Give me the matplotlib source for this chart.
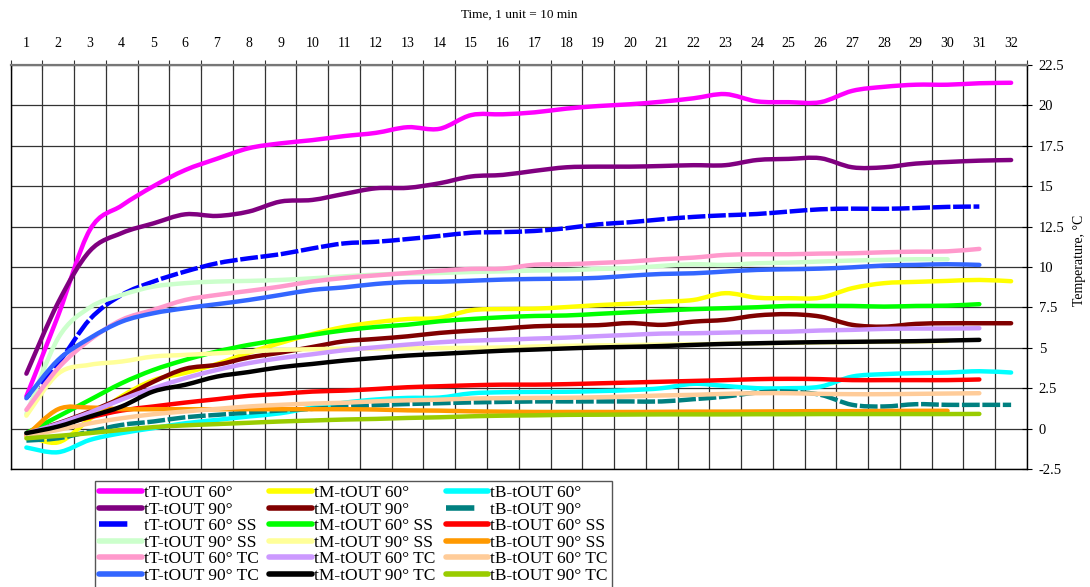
import numpy as np
import matplotlib
matplotlib.use("Agg")
from matplotlib import pyplot as plt
from matplotlib.path import Path
from matplotlib.patches import PathPatch
from matplotlib.lines import Line2D
from matplotlib.ticker import FuncFormatter

plt.rcParams['font.family'] = ['Liberation Serif', 'DejaVu Serif']
plt.rcParams['axes.unicode_minus'] = False

# time steps (1 unit = 10 min)
time_units = list(range(1, 33))

# tT series
tT_60 = [2.0, 7.0, 12.3, 13.8, 15.0, 16.0, 16.7, 17.35, 17.65, 17.85, 18.1, 18.3, 18.65, 18.55, 19.4, 19.45,
         19.57, 19.8, 19.96, 20.07, 20.23, 20.44, 20.7, 20.25, 20.2, 20.2, 20.9, 21.15, 21.28, 21.28, 21.37, 21.4]
tT_90 = [3.4, 7.8, 11.0, 12.1, 12.7, 13.26, 13.16, 13.43, 14.05, 14.15, 14.52, 14.87, 14.9, 15.18, 15.6, 15.7,
         15.95, 16.17, 16.21, 16.21, 16.25, 16.3, 16.3, 16.62, 16.69, 16.73, 16.17, 16.17, 16.4, 16.5, 16.58, 16.62]
tT_60_SS = [1.9, 4.05, 6.77, 8.27, 9.1, 9.72, 10.23, 10.54, 10.79, 11.15, 11.46, 11.56, 11.73, 11.92, 12.12, 12.16,
            12.23, 12.4, 12.64, 12.77, 12.95, 13.1, 13.2, 13.28, 13.43, 13.57, 13.61, 13.6, 13.65, 13.72, 13.74]
tT_90_SS = [0.9, 5.6, 7.5, 8.27, 8.79, 9.0, 9.1, 9.14, 9.2, 9.3, 9.42, 9.53, 9.59, 9.63, 9.69, 9.73,
            9.78, 9.8, 9.88, 9.93, 10.07, 10.17, 10.13, 10.23, 10.27, 10.34, 10.4, 10.44, 10.48, 10.48]
tT_60_TC = [1.16, 3.74, 5.49, 6.73, 7.35, 7.96, 8.27, 8.52, 8.79, 9.1, 9.32, 9.48, 9.63, 9.77, 9.88, 9.9,
            10.14, 10.17, 10.25, 10.34, 10.48, 10.58, 10.75, 10.79, 10.79, 10.83, 10.85, 10.91, 10.95, 10.97, 11.12]
tT_90_TC = [1.88, 4.25, 5.6, 6.62, 7.14, 7.45, 7.7, 7.96, 8.27, 8.58, 8.74, 8.95, 9.07, 9.09, 9.15, 9.22,
            9.26, 9.28, 9.33, 9.46, 9.57, 9.61, 9.72, 9.82, 9.86, 9.9, 9.98, 10.09, 10.13, 10.17, 10.13]

# tM series
tM_60 = [-0.4, -0.85, 0.6, 2.0, 3.0, 3.45, 4.0, 4.7, 5.3, 5.85, 6.29, 6.58, 6.78, 6.85, 7.32, 7.4,
         7.42, 7.52, 7.64, 7.73, 7.85, 7.96, 8.38, 8.1, 8.07, 8.1, 8.69, 9.0, 9.08, 9.14, 9.2, 9.12]
tM_90 = [-0.28, 0.33, 1.06, 1.9, 2.9, 3.7, 3.95, 4.4, 4.7, 5.05, 5.4, 5.55, 5.71, 5.92, 6.06, 6.19,
         6.33, 6.37, 6.4, 6.53, 6.42, 6.62, 6.73, 7.0, 7.08, 6.93, 6.42, 6.31, 6.48, 6.52, 6.52, 6.52]
tM_60_SS = [-0.28, 0.75, 1.78, 2.81, 3.63, 4.25, 4.77, 5.18, 5.49, 5.8, 6.08, 6.29, 6.43, 6.64, 6.78, 6.89,
            6.97, 7.0, 7.1, 7.2, 7.3, 7.39, 7.45, 7.51, 7.59, 7.59, 7.59, 7.55, 7.59, 7.61, 7.7]
tM_90_SS = [0.8, 3.4, 3.95, 4.15, 4.46, 4.56, 4.66, 4.77, 4.87, 4.91, 4.95, 4.95, 4.97, 4.98, 5.0, 5.02,
            5.08, 5.12, 5.15, 5.17, 5.2, 5.22, 5.25, 5.28, 5.3, 5.33, 5.35, 5.37, 5.39, 5.42]
tM_60_TC = [-0.3, 0.3, 1.0, 1.8, 2.5, 3.12, 3.63, 4.05, 4.36, 4.6, 4.85, 5.03, 5.2, 5.34, 5.44, 5.5,
            5.57, 5.63, 5.72, 5.8, 5.88, 5.9, 5.94, 5.98, 6.0, 6.07, 6.11, 6.17, 6.19, 6.19, 6.21]
tM_90_TC = [-0.28, 0.13, 0.75, 1.37, 2.3, 2.71, 3.22, 3.5, 3.8, 4.0, 4.21, 4.37, 4.52, 4.62, 4.72, 4.82,
            4.89, 4.96, 5.02, 5.06, 5.11, 5.18, 5.24, 5.28, 5.32, 5.35, 5.37, 5.39, 5.41, 5.45, 5.49]

# tB series
tB_60 = [-1.17, -1.46, -0.7, -0.28, 0.03, 0.33, 0.54, 0.75, 0.95, 1.3, 1.6, 1.8, 1.9, 1.92, 2.18, 2.25,
         2.27, 2.28, 2.32, 2.38, 2.5, 2.77, 2.64, 2.5, 2.5, 2.6, 3.22, 3.37, 3.43, 3.47, 3.55, 3.47]
tB_90 = [-0.74, -0.6, -0.18, 0.23, 0.44, 0.7, 0.85, 0.99, 1.12, 1.22, 1.35, 1.45, 1.52, 1.57, 1.62, 1.65,
         1.68, 1.68, 1.68, 1.68, 1.68, 1.82, 1.98, 2.23, 2.29, 2.09, 1.47, 1.37, 1.51, 1.47, 1.47, 1.47]
tB_60_SS = [-0.39, 0.23, 0.7, 1.12, 1.37, 1.61, 1.82, 2.03, 2.15, 2.29, 2.35, 2.45, 2.56, 2.62, 2.68, 2.72,
            2.72, 2.75, 2.8, 2.85, 2.9, 2.95, 3.0, 3.06, 3.08, 3.06, 3.0, 3.0, 3.0, 3.0, 3.04]
tB_90_SS = [-0.45, 1.2, 1.3, 1.2, 1.2, 1.2, 1.2, 1.2, 1.2, 1.2, 1.2, 1.18, 1.13, 1.11, 1.07, 1.05,
            1.03, 1.03, 1.03, 1.03, 1.04, 1.05, 1.05, 1.06, 1.07, 1.08, 1.08, 1.09, 1.1, 1.1]
tB_60_TC = [-0.45, -0.08, 0.33, 0.64, 0.89, 1.06, 1.22, 1.37, 1.47, 1.55, 1.6, 1.69, 1.75, 1.79, 1.86, 1.88,
            1.9, 1.91, 1.94, 1.99, 2.05, 2.09, 2.15, 2.19, 2.19, 2.15, 2.13, 2.13, 2.15, 2.17, 2.19]
tB_90_TC = [-0.6, -0.45, -0.28, -0.08, 0.09, 0.2, 0.28, 0.36, 0.44, 0.5, 0.56, 0.6, 0.66, 0.7, 0.76, 0.8,
            0.82, 0.85, 0.86, 0.87, 0.88, 0.88, 0.88, 0.89, 0.89, 0.9, 0.9, 0.9, 0.9, 0.9, 0.91]

y_ticks = [-2.5, 0, 2.5, 5, 7.5, 10, 12.5, 15, 17.5, 20, 22.5]

# (label, values, colour, dashed) in legend order (column by column)
series = [
    ("tT-tOUT 60°", tT_60, "#FF00FF", False),
    ("tT-tOUT 90°", tT_90, "#800080", False),
    ("tT-tOUT 60° SS", tT_60_SS, "#0000FF", True),
    ("tT-tOUT 90° SS", tT_90_SS, "#CCFFCC", False),
    ("tT-tOUT 60° TC", tT_60_TC, "#FF99CC", False),
    ("tT-tOUT 90° TC", tT_90_TC, "#3366FF", False),
    ("tM-tOUT 60°", tM_60, "#FFFF00", False),
    ("tM-tOUT 90°", tM_90, "#800000", False),
    ("tM-tOUT 60° SS", tM_60_SS, "#00FF00", False),
    ("tM-tOUT 90° SS", tM_90_SS, "#FFFF99", False),
    ("tM-tOUT 60° TC", tM_60_TC, "#CC99FF", False),
    ("tM-tOUT 90° TC", tM_90_TC, "#000000", False),
    ("tB-tOUT 60°", tB_60, "#00FFFF", False),
    ("tB-tOUT 90°", tB_90, "#008080", True),
    ("tB-tOUT 60° SS", tB_60_SS, "#FF0000", False),
    ("tB-tOUT 90° SS", tB_90_SS, "#FF9900", False),
    ("tB-tOUT 60° TC", tB_60_TC, "#FFCC99", False),
    ("tB-tOUT 90° TC", tB_90_TC, "#99CC00", False),
]


def smooth_path(xs, ys):
    # smoothed line like excel: bezier segments through every point
    pts = np.column_stack([xs, ys]).astype(float)
    n = len(pts)
    verts = [pts[0]]
    codes = [Path.MOVETO]
    for i in range(n - 1):
        p0 = pts[max(i - 1, 0)]
        p1 = pts[i]
        p2 = pts[i + 1]
        p3 = pts[min(i + 2, n - 1)]
        verts += [p1 + (p2 - p0) / 6, p2 - (p3 - p1) / 6, p2]
        codes += [Path.CURVE4] * 3
    return Path(verts, codes)


fig = plt.figure(figsize=(10.9, 5.87), dpi=100)
ax = fig.add_axes([10.5 / 1090, 1 - 469 / 587, (1027 - 10.5) / 1090, (469 - 65) / 587])

# excel draws series in row order of its legend
draw_order = [0, 6, 12, 1, 7, 13, 2, 8, 14, 3, 9, 15, 4, 10, 16, 5, 11, 17]
for z, idx in enumerate(draw_order):
    label, vals, color, dashed = series[idx]
    xs = time_units[:len(vals)]
    ls = (0, (4, 0.6)) if dashed else "solid"
    patch = PathPatch(smooth_path(xs, vals), fill=False, edgecolor=color, lw=3.2,
                      linestyle=ls, capstyle="butt" if dashed else "round",
                      joinstyle="round", zorder=3 + z * 0.01)
    ax.add_patch(patch)

ax.set_xlim(0.5, 32.5)
ax.set_ylim(-2.5, 22.5)

ax.set_xticks(time_units)
ax.set_xticks(np.arange(0.5, 33, 1), minor=True)
ax.xaxis.tick_top()
ax.tick_params(axis="x", which="major", length=0, pad=11, labelsize=10)
ax.tick_params(axis="x", which="minor", top=True, bottom=False, direction="inout", length=7,
               width=0.8, color="#333333")

ax.set_yticks(y_ticks)
ax.yaxis.set_major_formatter(FuncFormatter(lambda v, p: "{:g}".format(v)))
ax.yaxis.tick_right()
ax.tick_params(axis="y", direction="inout", length=7, width=0.8, pad=5, labelsize=10.5)

ax.grid(which="minor", axis="x", color="#333333", lw=0.9)
ax.grid(which="major", axis="y", color="#333333", lw=0.9)
ax.set_axisbelow(True)

for side in ["left", "bottom", "right"]:
    ax.spines[side].set_color("black")
    ax.spines[side].set_linewidth(1.0)
ax.spines["top"].set_color("#777777")
ax.spines["top"].set_linewidth(1.6)

fig.text(519 / 1090, 1 - 15 / 587, "Time, 1 unit = 10 min", ha="center", va="center", fontsize=9.5)
fig.text(1080 / 1090, 1 - 260 / 587, "Temperature, °C", ha="center", va="center",
         rotation=90, fontsize=10)

handles = [Line2D([], [], color=c, lw=4, linestyle=(0.3, (5.4, 10)) if d else "solid",
                  solid_capstyle="round") for _, _, c, d in series]
labels = [s[0] for s in series]
leg = fig.legend(handles, labels, loc="upper left", bbox_to_anchor=(95 / 1090, 1 - 481 / 587),
                 ncol=3, fontsize=12.5, frameon=True, fancybox=False, framealpha=1,
                 edgecolor="#555555", borderaxespad=0, borderpad=0.25, handlelength=2.45,
                 handletextpad=0.12, columnspacing=0.6, labelspacing=0.02)
leg.get_frame().set_linewidth(1.0)

fig.savefig("out.png", dpi=100)
